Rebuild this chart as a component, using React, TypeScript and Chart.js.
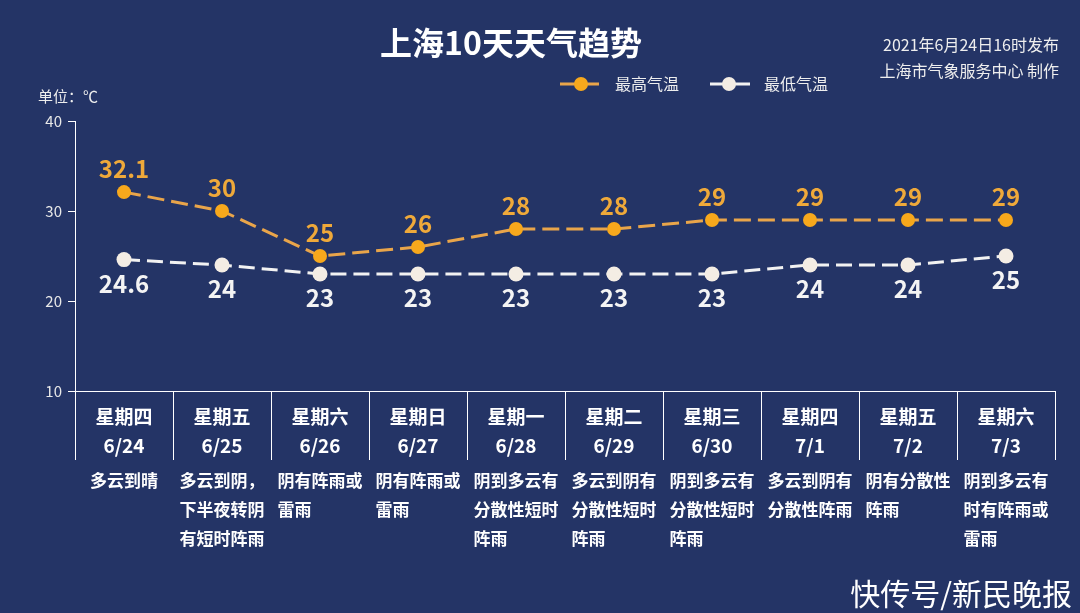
import { useEffect, useRef } from 'react';
import { Chart, registerables } from 'chart.js';

Chart.register(...registerables);

const weekdays = ['星期四', '星期五', '星期六', '星期日', '星期一', '星期二', '星期三', '星期四', '星期五', '星期六'];
const dates = ['6/24', '6/25', '6/26', '6/27', '6/28', '6/29', '6/30', '7/1', '7/2', '7/3'];
const highs = [32.1, 30, 25, 26, 28, 28, 29, 29, 29, 29];
const lows = [24.6, 24, 23, 23, 23, 23, 23, 24, 24, 25];
const descriptions = [
  ['多云到晴'],
  ['多云到阴，', '下半夜转阴', '有短时阵雨'],
  ['阴有阵雨或', '雷雨'],
  ['阴有阵雨或', '雷雨'],
  ['阴到多云有', '分散性短时', '阵雨'],
  ['多云到阴有', '分散性短时', '阵雨'],
  ['阴到多云有', '分散性短时', '阵雨'],
  ['多云到阴有', '分散性阵雨'],
  ['阴有分散性', '阵雨'],
  ['阴到多云有', '时有阵雨或', '雷雨'],
];
const yMin = 10;
const yMax = 40;
const yStep = 10;
const seriesNames = ['最高气温', '最低气温'];
const titleText = '上海10天天气趋势';
const issueLines = ['2021年6月24日16时发布', '上海市气象服务中心 制作'];
const unitLabel = '单位：℃';
const watermark = '快传号/新民晚报';

const BG = '#243466';
const ORANGE_LINE = '#e9a54a';
const ORANGE_POINT = '#f7a81c';
const ORANGE_TEXT = '#efa93a';
const WHITE_LINE = '#f2f2f2';
const WHITE_POINT = '#f4ede4';
const FONT = '"Noto Sans CJK SC", "Noto Sans", sans-serif';

const decorPlugin = {
  id: 'decor',
  beforeDraw(chart: any) {
    const ctx = chart.ctx;
    ctx.save();
    ctx.fillStyle = BG;
    ctx.fillRect(0, 0, chart.width, chart.height);
    ctx.restore();
  },
  afterDraw(chart: any) {
    const ctx = chart.ctx;
    const xs = chart.scales.x;
    const area = chart.chartArea;
    ctx.save();
    // title
    ctx.fillStyle = '#ffffff';
    ctx.font = `bold 32px ${FONT}`;
    ctx.textAlign = 'center';
    ctx.textBaseline = 'middle';
    ctx.fillText(titleText, 511, 43);
    // issue info
    ctx.font = `16px ${FONT}`;
    ctx.textAlign = 'right';
    ctx.fillStyle = '#eeeeee';
    ctx.fillText(issueLines[0], 1059, 45);
    ctx.fillText(issueLines[1], 1059, 71);
    // unit
    ctx.font = `15px ${FONT}`;
    ctx.textAlign = 'left';
    ctx.fillText(unitLabel, 38, 96);
    // legend
    const leg = [
      { x0: 560, x1: 599, cx: 581, line: ORANGE_LINE, pt: ORANGE_POINT, tx: 615, name: seriesNames[0] },
      { x0: 710, x1: 750, cx: 729, line: WHITE_LINE, pt: WHITE_POINT, tx: 764, name: seriesNames[1] },
    ];
    leg.forEach((l) => {
      ctx.strokeStyle = l.line;
      ctx.lineWidth = 3;
      ctx.beginPath();
      ctx.moveTo(l.x0, 84);
      ctx.lineTo(l.x1, 84);
      ctx.stroke();
      ctx.fillStyle = l.pt;
      ctx.beginPath();
      ctx.arc(l.cx, 84, 7, 0, Math.PI * 2);
      ctx.fill();
      ctx.fillStyle = '#eeeeee';
      ctx.font = `16px ${FONT}`;
      ctx.textAlign = 'left';
      ctx.fillText(l.name, l.tx, 84);
    });
    // column separators
    const n = weekdays.length;
    const colW = (xs.right - xs.left) / n;
    ctx.strokeStyle = '#ffffff';
    ctx.lineWidth = 1;
    for (let i = 0; i <= n; i++) {
      const x = Math.round(xs.left + i * colW) + 0.5;
      ctx.beginPath();
      ctx.moveTo(x, area.bottom);
      ctx.lineTo(x, 460);
      ctx.stroke();
    }
    // descriptions
    ctx.font = `bold 17px ${FONT}`;
    ctx.fillStyle = '#ffffff';
    ctx.textAlign = 'left';
    ctx.textBaseline = 'middle';
    descriptions.forEach((lines, i) => {
      const cx = xs.getPixelForValue(i);
      const w = Math.max(...lines.map((s) => ctx.measureText(s).width));
      lines.forEach((s, j) => {
        ctx.fillText(s, cx - w / 2, 481 + j * 29);
      });
    });
    // watermark
    ctx.font = `30px ${FONT}`;
    ctx.textAlign = 'right';
    ctx.fillStyle = '#ffffff';
    ctx.fillText(watermark, 1072, 594);
    ctx.restore();
  },
  afterDatasetsDraw(chart: any) {
    const ctx = chart.ctx;
    ctx.save();
    ctx.font = `bold 24px ${FONT}`;
    ctx.textAlign = 'center';
    ctx.textBaseline = 'middle';
    chart.data.datasets.forEach((ds: any, di: number) => {
      const meta = chart.getDatasetMeta(di);
      meta.data.forEach((pt: any, i: number) => {
        const v = ds.data[i];
        if (di === 0) {
          ctx.fillStyle = ORANGE_TEXT;
          ctx.fillText(String(v), pt.x, pt.y - 23);
        } else {
          ctx.fillStyle = '#f4f4f4';
          ctx.fillText(String(v), pt.x, pt.y + 24);
        }
      });
    });
    ctx.restore();
  },
};

export default function App() {
  const ref = useRef<HTMLCanvasElement | null>(null);
  useEffect(() => {
    if (!ref.current) return;
    const chart = new Chart(ref.current, {
      type: 'line',
      data: {
        labels: weekdays.map((w, i) => [w, dates[i]]),
        datasets: [
          {
            label: seriesNames[0],
            data: highs,
            borderColor: ORANGE_LINE,
            borderWidth: 3,
            borderDash: [17, 7],
            pointRadius: 7,
            pointBackgroundColor: ORANGE_POINT,
            pointBorderColor: ORANGE_POINT,
            pointBorderWidth: 0,
            tension: 0,
          },
          {
            label: seriesNames[1],
            data: lows,
            borderColor: WHITE_LINE,
            borderWidth: 3,
            borderDash: [16, 7],
            pointRadius: 7.5,
            pointBackgroundColor: WHITE_POINT,
            pointBorderColor: WHITE_POINT,
            pointBorderWidth: 0,
            tension: 0,
          },
        ],
      },
      options: {
        animation: false,
        responsive: true,
        maintainAspectRatio: false,
        layout: { padding: { top: 121, right: 25, left: 0, bottom: 0 } },
        plugins: {
          legend: { display: false },
          title: { display: false },
          tooltip: { enabled: false },
        },
        scales: {
          x: {
            type: 'category',
            offset: true,
            grid: { display: true, drawOnChartArea: false, drawTicks: false },
            border: { display: true, color: '#ffffff', width: 1 },
            ticks: {
              color: '#ffffff',
              font: { family: FONT, size: 19, weight: 'bold', lineHeight: '29px' },
              padding: 11,
              maxRotation: 0,
              autoSkip: false,
            },
            afterFit: (s: any) => {
              s.height = 222;
            },
          },
          y: {
            min: yMin,
            max: yMax,
            ticks: {
              stepSize: yStep,
              color: '#e8e8e8',
              font: { family: FONT, size: 15 },
              padding: 6,
            },
            grid: { display: true, drawOnChartArea: false, drawTicks: true, tickLength: 7, color: '#ffffff' },
            border: { display: true, color: '#ffffff', width: 1 },
            afterFit: (s: any) => {
              s.width = 75;
            },
          },
        },
      } as any,
      plugins: [decorPlugin],
    });
    return () => chart.destroy();
  }, []);
  return (
    <div style={{ position: 'fixed', left: 0, top: 0, width: 1080, height: 613, background: BG }}>
      <canvas ref={ref} />
    </div>
  );
}
